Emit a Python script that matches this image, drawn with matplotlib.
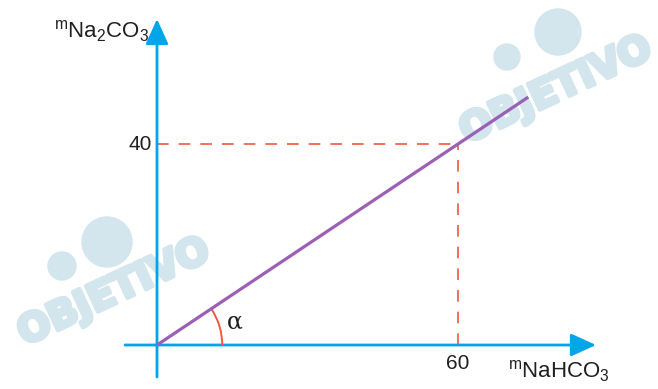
import matplotlib
matplotlib.use("Agg")
import matplotlib.pyplot as plt
from matplotlib.patches import Arc, Ellipse
import matplotlib.patheffects as pe

plt.rcParams['font.family'] = ['Liberation Sans', 'DejaVu Sans']
plt.rcParams['mathtext.fontset'] = 'custom'
plt.rcParams['mathtext.rm'] = 'Liberation Sans'
plt.rcParams['mathtext.it'] = 'Liberation Sans:italic'

# Data: mass of Na2CO3 produced vs mass of NaHCO3 decomposed
m_nahco3 = [0, 74]
m_na2co3 = [0, 74 * 40 / 60]
mark_x = 60
mark_y = 40
x_ticks = [60]
y_ticks = [40]

AXIS_BLUE = '#00a6e8'
LINE_PURPLE = '#9b5fb5'
DASH_RED = '#f2583e'
WM = '#d3e5ed'
TXT = '#231f20'

W, H = 658, 389
fig = plt.figure(figsize=(W / 100, H / 100), dpi=100)
ax = fig.add_axes([0, 0, 1, 1])
sx = 5.017
sy = 5.025
ax.set_xlim(-157 / sx, (W - 157) / sx)
ax.set_ylim(-(H - 345) / sy, 345 / sy)
ax.axis('off')

def px(x, y):
    return (x / W, 1 - y / H)

# Watermarks
for (tx, ty), (c1, r1), (c2, r2) in [
    ((556, 90), ((558, 32), 23), ((507, 57), 13)),
    ((114, 292), ((107, 242), 25), ((62, 266), 14)),
]:
    ax.text(*px(tx, ty), 'OBJETIVO', transform=ax.transAxes, rotation=25,
            ha='center', va='center', fontsize=28, fontweight='bold',
            family='DejaVu Sans', color=WM, zorder=0,
            path_effects=[pe.withStroke(linewidth=3, foreground=WM)])
    ax.add_patch(Ellipse(px(*c1), 2 * r1 / W, 2 * r1 / H, transform=ax.transAxes,
                         color=WM, zorder=0))
    ax.add_patch(Ellipse(px(*c2), 2 * r2 / W, 2 * r2 / H, transform=ax.transAxes,
                         color=WM, zorder=0))

# Axes with arrowheads
x0, x1 = -32 / sx, (596 - 157) / sx
y0, y1 = -(377 - 345) / sy, (345 - 19) / sy
arrow = dict(arrowstyle='-|>,head_length=1.1,head_width=0.5', color=AXIS_BLUE,
             lw=2.0, mutation_scale=14, shrinkA=0, shrinkB=0)
ax.annotate('', xy=(x1, 0), xytext=(x0, 0), arrowprops=arrow, zorder=3)
ax.annotate('', xy=(0, y1), xytext=(0, y0), arrowprops=arrow, zorder=3)

# Dashed guide lines
ax.plot([0, mark_x], [mark_y, mark_y], color=DASH_RED, lw=1.2,
        dashes=(7, 6), zorder=2)
ax.plot([mark_x, mark_x], [0, mark_y], color=DASH_RED, lw=1.2,
        dashes=(7, 6), zorder=2)

# Proportionality line
ax.plot(m_nahco3, m_na2co3, color=LINE_PURPLE, lw=2.3, solid_capstyle='butt',
        zorder=4)

# Angle alpha
r = 13
ax.add_patch(Arc((0, 0), 2 * r, 2 * r * sx / sy, theta1=0, theta2=33.7,
                 color=DASH_RED, lw=1.4, zorder=3))
ax.text(14.0, 4.6, 'α', fontsize=17, ha='left', va='center',
        color=TXT, family='DejaVu Serif')

# Tick labels
for v in x_ticks:
    ax.text(v, -1.8, str(v), ha='center', va='top', fontsize=15, color=TXT)
for v in y_ticks:
    ax.text(-1.0, v, str(v), ha='right', va='center', fontsize=15, color=TXT)

# Axis titles
ax.text(*px(54, 38), r'$^{\mathrm{m}}\mathrm{Na_2CO_3}$', transform=ax.transAxes,
        ha='left', va='baseline', fontsize=16, color=TXT)
ax.text(*px(508, 378), r'$^{\mathrm{m}}\mathrm{NaHCO_3}$', transform=ax.transAxes,
        ha='left', va='baseline', fontsize=16, color=TXT)

fig.savefig('out.png', dpi=100)
